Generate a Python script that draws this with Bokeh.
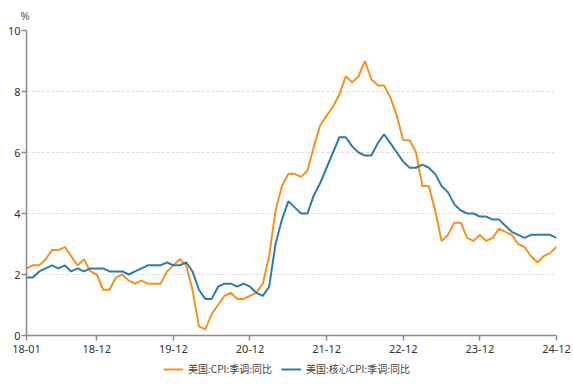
from bokeh.plotting import figure
from bokeh.layouts import column
from bokeh.models import FixedTicker, Legend, LegendItem, Title, Range1d
from bokeh.embed import file_html
from bokeh.resources import INLINE

years = list(range(2018, 2025))
months = [f"{y % 100:02d}-{m:02d}" for y in years for m in range(1, 13)]
tick_labels = ["18-01", "18-12", "19-12", "20-12", "21-12", "22-12", "23-12", "24-12"]
y_ticks = [0, 2, 4, 6, 8, 10]

cpi = [2.2, 2.3, 2.3, 2.5, 2.8, 2.8, 2.9, 2.6, 2.3, 2.5, 2.1, 2.0,
       1.5, 1.5, 1.9, 2.0, 1.8, 1.7, 1.8, 1.7, 1.7, 1.7, 2.1, 2.3,
       2.5, 2.3, 1.5, 0.3, 0.2, 0.7, 1.0, 1.3, 1.4, 1.2, 1.2, 1.3,
       1.4, 1.7, 2.6, 4.1, 4.9, 5.3, 5.3, 5.2, 5.4, 6.2, 6.9, 7.2,
       7.5, 7.9, 8.5, 8.3, 8.5, 9.0, 8.4, 8.2, 8.2, 7.8, 7.2, 6.4,
       6.4, 6.0, 4.9, 4.9, 4.1, 3.1, 3.3, 3.7, 3.7, 3.2, 3.1, 3.3,
       3.1, 3.2, 3.5, 3.4, 3.3, 3.0, 2.9, 2.6, 2.4, 2.6, 2.7, 2.9]

core = [1.9, 1.9, 2.1, 2.2, 2.3, 2.2, 2.3, 2.1, 2.2, 2.1, 2.2, 2.2,
        2.2, 2.1, 2.1, 2.1, 2.0, 2.1, 2.2, 2.3, 2.3, 2.3, 2.4, 2.3,
        2.3, 2.4, 2.1, 1.5, 1.2, 1.2, 1.6, 1.7, 1.7, 1.6, 1.7, 1.6,
        1.4, 1.3, 1.6, 3.0, 3.8, 4.4, 4.2, 4.0, 4.0, 4.6, 5.0, 5.5,
        6.0, 6.5, 6.5, 6.2, 6.0, 5.9, 5.9, 6.3, 6.6, 6.3, 6.0, 5.7,
        5.5, 5.5, 5.6, 5.5, 5.3, 4.9, 4.7, 4.3, 4.1, 4.0, 4.0, 3.9,
        3.9, 3.8, 3.8, 3.6, 3.4, 3.3, 3.2, 3.3, 3.3, 3.3, 3.3, 3.2]

series_names = ["美国:CPI:季调:同比", "美国:核心CPI:季调:同比"]
colors = ["#F7901E", "#2C7CAB"]
unit_text = "%"

x = list(range(len(months)))
tick_pos = [months.index(t) for t in tick_labels]

FONT = "Noto Sans"
CJK = "Noto Sans CJK SC"
W = 573

# ---- main chart ----
p = figure(width=W, height=359, output_backend="svg", toolbar_location=None,
           x_range=Range1d(0, len(months) - 1), y_range=Range1d(0, 10),
           min_border_left=26, min_border_right=17, min_border_top=30,
           min_border_bottom=24)
p.outline_line_color = None
p.background_fill_color = "white"

p.line(x, cpi, line_color=colors[0], line_width=2)
p.line(x, core, line_color=colors[1], line_width=2)

p.xgrid.visible = False
p.ygrid.ticker = FixedTicker(ticks=y_ticks)
p.ygrid.grid_line_color = "#dedede"
p.ygrid.grid_line_dash = "3 2"
p.ygrid.grid_line_width = 1

for ax in (p.xaxis[0], p.yaxis[0]):
    ax.axis_line_color = "#8c8c8c"
    ax.axis_line_width = 1.5
    ax.major_tick_line_color = "#8c8c8c"
    ax.major_tick_line_width = 1.5
    ax.major_tick_in = 0
    ax.major_tick_out = 5
    ax.minor_tick_line_color = None
    ax.major_label_text_font = FONT
    ax.major_label_text_font_size = "11px"
    ax.major_label_text_color = "#333333"

p.yaxis[0].ticker = FixedTicker(ticks=y_ticks)
p.yaxis[0].major_label_standoff = 1
p.xaxis[0].ticker = FixedTicker(ticks=tick_pos)
p.xaxis[0].major_label_overrides = {pos: lab for pos, lab in zip(tick_pos, tick_labels)}
p.xaxis[0].major_label_standoff = 4

unit = Title(text=unit_text, align="left", offset=-6, standoff=12,
             vertical_align="top",
             text_font=FONT, text_font_size="11px", text_font_style="normal",
             text_color="#555555")
p.add_layout(unit, "above")

# ---- legend strip (bottom) ----
lf = figure(width=W, height=25, output_backend="svg", toolbar_location=None,
            x_range=Range1d(0, 1), y_range=Range1d(-30, -20),
            x_axis_location=None, y_axis_location=None,
            min_border_left=0, min_border_right=0, min_border_top=0,
            min_border_bottom=0)
lf.outline_line_color = None
lf.grid.visible = False
l1 = lf.line(x, cpi, line_color=colors[0], line_width=2)
l2 = lf.line(x, core, line_color=colors[1], line_width=2)


def make_legend(label, rend, xpos):
    lg = Legend(items=[LegendItem(label=label, renderers=[rend])],
                orientation="horizontal", location=(xpos, 8))
    lg.label_text_font = CJK
    lg.label_text_font_size = "10px"
    lg.label_text_color = "#444444"
    lg.glyph_width = 20
    lg.glyph_height = 10
    lg.label_standoff = 5
    lg.padding = 0
    lg.margin = 0
    lg.border_line_color = None
    lg.background_fill_alpha = 0
    return lg


lf.add_layout(make_legend(series_names[0], l1, 137), "center")
lf.add_layout(make_legend(series_names[1], l2, 255), "center")

layout = column(p, lf, spacing=0)
open("out.html", "w").write(file_html(layout, INLINE))
